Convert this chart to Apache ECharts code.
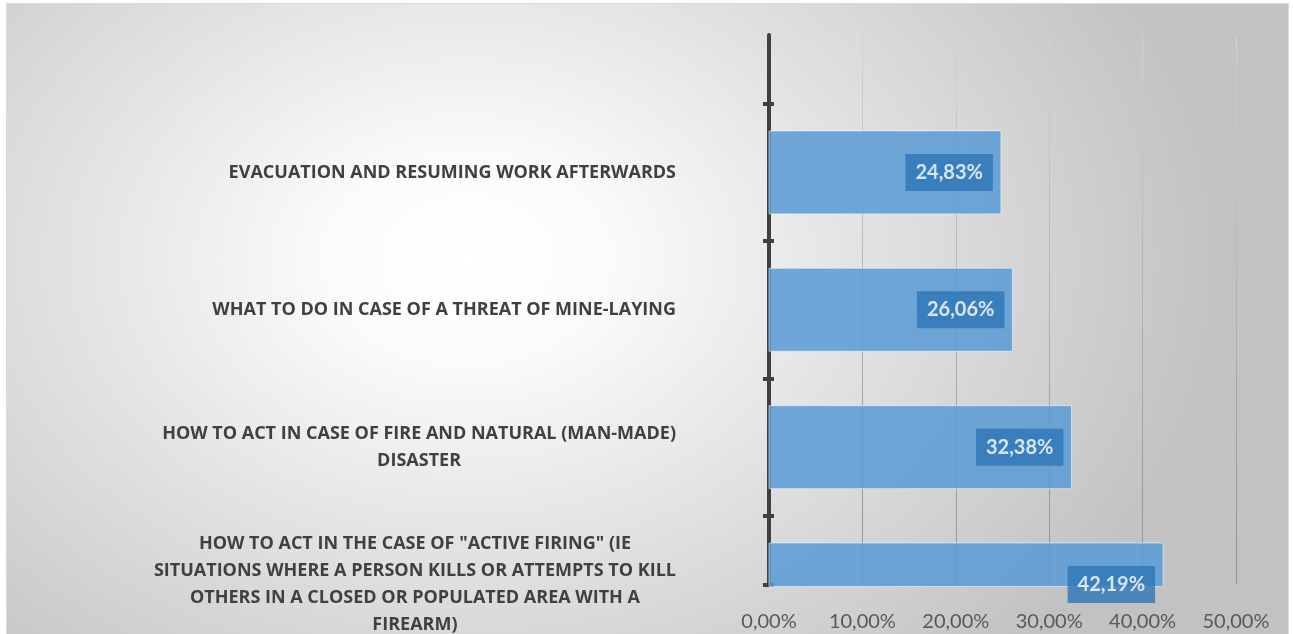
<!DOCTYPE html>
<html>
<head>
<meta charset="utf-8">
<title>Training topics</title>
<script src="https://cdn.jsdelivr.net/npm/echarts@6/dist/echarts.min.js"></script>
<style>
  html, body { margin: 0; padding: 0; width: 1293px; height: 634px; overflow: hidden; background: #fff; }
  #frame {
    position: absolute; left: 6px; top: 3px; width: 1281px; height: 660px;
    border: 1px solid #d9d9d9;
    background: radial-gradient(ellipse 760px 560px at 460px 255px, #ffffff 0%, #fbfbfb 18%, #e4e4e4 50%, #c2c2c2 100%);
  }
  #chart { position: absolute; left: 0; top: 0; width: 1293px; height: 634px; }
</style>
</head>
<body>
<div id="frame"></div>
<div id="chart"></div>
<script>
// data (share of respondents, %)
const categories = [
  'EVACUATION AND RESUMING WORK AFTERWARDS',
  'WHAT TO DO IN CASE OF A THREAT OF MINE-LAYING',
  'HOW TO ACT IN CASE OF FIRE AND NATURAL (MAN-MADE)\nDISASTER',
  'HOW TO ACT IN THE CASE OF "ACTIVE FIRING" (IE\nSITUATIONS WHERE A PERSON KILLS OR ATTEMPTS TO KILL\nOTHERS IN A CLOSED OR POPULATED AREA WITH A\nFIREARM)'
]
const values = [24.83, 26.06, 32.38, 42.19]
const xTicks = [0, 10, 20, 30, 40, 50]

const fmtPct = v => v.toFixed(2).replace('.', ',') + '%'
const font = 'Lato, "Open Sans", sans-serif'
const catFont = '"Open Sans", Lato, sans-serif'

// one empty slot on top, bars sit on the axis ticks (boundaryGap false)
const yCats = [''].concat(categories)
// helper axis of half-bands, only used to draw the tick marks between bars
const tickCats = Array.from({ length: categories.length * 2 }, (_, i) => 't' + i)

const barData = values.map((v, i) => [v, categories[i]])
const barHeight = 83

const chart = echarts.init(document.getElementById('chart'), null, { renderer: 'canvas' })

chart.setOption({
  backgroundColor: 'transparent',
  animation: false,
  grid: { left: 769, right: 57, top: 35, bottom: 44 },
  xAxis: {
    type: 'value',
    min: xTicks[0],
    max: xTicks[xTicks.length - 1],
    interval: xTicks[1] - xTicks[0],
    axisLine: { show: false },
    axisTick: { show: false },
    splitLine: {
      show: true,
      lineStyle: {
        width: 1,
        color: new echarts.graphic.LinearGradient(0, 35, 0, 590, [
          { offset: 0, color: '#d2d2d2' },
          { offset: 1, color: '#8f8f8f' }
        ], true)
      }
    },
    axisLabel: {
      margin: 27,
      color: '#595959',
      fontSize: 20,
      fontFamily: font,
      formatter: v => fmtPct(v)
    }
  },
  yAxis: [
    {
      type: 'category',
      data: yCats,
      inverse: true,
      boundaryGap: false,
      position: 'left',
      axisLine: { show: true, lineStyle: { color: '#404040', width: 4 } },
      axisTick: { show: false },
      splitLine: { show: false },
      axisLabel: {
        interval: 0,
        margin: 93,
        formatter: v => v.split('\n').map(l => '{c|' + l + '}').join('\n'),
        rich: {
          c: {
            align: 'center',
            color: '#404040',
            fontSize: 18,
            fontWeight: 'bold',
            fontFamily: catFont,
            lineHeight: 27
          }
        }
      }
    },
    {
      type: 'category',
      data: tickCats,
      inverse: true,
      boundaryGap: true,
      position: 'left',
      offset: 6,
      axisLine: { show: false },
      axisLabel: { show: false },
      splitLine: { show: false },
      axisTick: {
        show: true,
        inside: true,
        length: 11,
        interval: i => i % 2 === 1,
        lineStyle: { color: '#404040', width: 4 }
      }
    }
  ],
  series: [
    {
      // bars drawn through the axes, clipped to the plot like the original
      type: 'custom',
      yAxisIndex: 0,
      silent: true,
      encode: { x: 0, y: 1 },
      data: barData,
      renderItem: (params, api) => {
        const start = api.coord([0, api.value(1)])
        const end = api.coord([api.value(0), api.value(1)])
        const rect = echarts.graphic.clipRectByRect({
          x: start[0],
          y: start[1] - barHeight / 2,
          width: end[0] - start[0],
          height: barHeight
        }, {
          x: params.coordSys.x,
          y: params.coordSys.y,
          width: params.coordSys.width,
          height: params.coordSys.height + 2
        })
        return rect && {
          type: 'rect',
          shape: rect,
          style: {
            fill: '#5b9bd5',
            opacity: 0.86,
            stroke: 'rgba(255,255,255,0.6)',
            lineWidth: 1
          }
        }
      }
    },
    {
      // value labels, anchored at the bar ends
      type: 'scatter',
      yAxisIndex: 0,
      symbolSize: 0,
      clip: false,
      silent: true,
      data: barData,
      label: {
        show: true,
        position: 'left',
        distance: 8,
        formatter: p => fmtPct(p.value[0]),
        color: '#ffffff',
        fontSize: 20,
        fontWeight: 'bold',
        fontFamily: font,
        backgroundColor: '#2e75b6',
        padding: [9, 10, 8, 10]
      }
    }
  ]
})
</script>
</body>
</html>
